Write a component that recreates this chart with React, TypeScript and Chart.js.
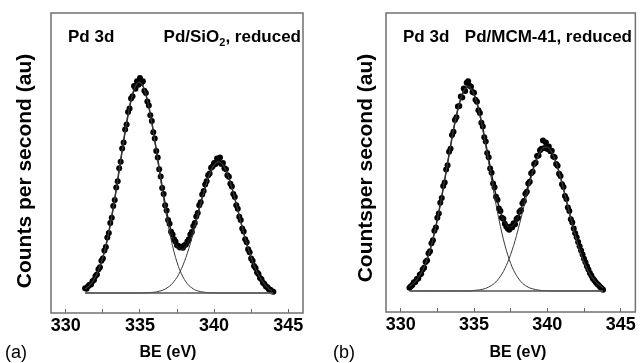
import React, { useEffect, useRef } from 'react';
import { Chart, registerables } from 'chart.js';

Chart.register(...registerables);

// ---------------- Data: panel (a) Pd/SiO2 ----------------
const dotEnergiesA = [
  331.3, 331.4, 331.5, 331.6, 331.7, 331.8, 331.9, 332.0, 332.1, 332.2,
  332.3, 332.4, 332.5, 332.6, 332.7, 332.8, 332.9, 333.0, 333.1, 333.2,
  333.3, 333.4, 333.5, 333.6, 333.7, 333.8, 333.9, 334.0, 334.1, 334.2,
  334.3, 334.4, 334.5, 334.6, 334.7, 334.8, 334.9, 335.0, 335.1, 335.2,
  335.3, 335.4, 335.5, 335.6, 335.7, 335.8, 335.9, 336.0, 336.1, 336.2,
  336.3, 336.4, 336.5, 336.6, 336.7, 336.8, 336.9, 337.0, 337.1, 337.2,
  337.3, 337.4, 337.5, 337.6, 337.7, 337.8, 337.9, 338.0, 338.1, 338.2,
  338.3, 338.4, 338.5, 338.6, 338.7, 338.8, 338.9, 339.0, 339.1, 339.2,
  339.3, 339.4, 339.5, 339.6, 339.7, 339.8, 339.9, 340.0, 340.1, 340.2,
  340.3, 340.4, 340.5, 340.6, 340.7, 340.8, 340.9, 341.0, 341.1, 341.2,
  341.3, 341.4, 341.5, 341.6, 341.7, 341.8, 341.9, 342.0, 342.1, 342.2,
  342.3, 342.4, 342.5, 342.6, 342.7, 342.8, 342.9, 343.0, 343.1, 343.2,
  343.3, 343.4, 343.5, 343.6, 343.7, 343.8, 343.9, 344.0,
];
const dotCountsA = [
  22, 20, 31, 38, 40, 55, 60, 79, 86, 110,
  120, 150, 160, 198, 214, 258, 279, 326, 350, 405,
  432, 490, 520, 580, 610, 672, 700, 760, 784, 842,
  858, 905, 915, 962, 950, 985, 968, 1000, 978, 985,
  940, 930, 890, 872, 826, 800, 748, 718, 660, 630,
  575, 542, 488, 460, 408, 384, 340, 322, 285, 272,
  250, 240, 222, 218, 212, 215, 210, 222, 225, 240,
  250, 272, 284, 312, 325, 356, 372, 408, 422, 458,
  474, 505, 520, 548, 556, 582, 588, 605, 600, 625,
  608, 630, 600, 604, 580, 575, 548, 540, 508, 495,
  460, 446, 408, 392, 355, 340, 300, 286, 250, 236,
  203, 190, 160, 150, 125, 116, 95, 88, 70, 64,
  48, 42, 30, 27, 18, 15, 8, 6,
];
const fitEnergiesA = [
  331.3, 331.5, 331.7, 331.9, 332.1, 332.3, 332.5, 332.7, 332.9, 333.1,
  333.3, 333.5, 333.7, 333.9, 334.1, 334.3, 334.5, 334.7, 334.9, 335.1,
  335.3, 335.5, 335.7, 335.9, 336.1, 336.3, 336.5, 336.7, 336.9, 337.1,
  337.3, 337.5, 337.7, 337.9, 338.1, 338.3, 338.5, 338.7, 338.9, 339.1,
  339.3, 339.5, 339.7, 339.9, 340.1, 340.3, 340.5, 340.7, 340.9, 341.1,
  341.3, 341.5, 341.7, 341.9, 342.1, 342.3, 342.5, 342.7, 342.9, 343.1,
  343.3, 343.5, 343.7, 343.9,
];
const fitSumA = [
  19, 29, 43, 63, 89, 123, 166, 219, 283, 356,
  438, 526, 617, 707, 791, 865, 923, 962, 979, 974,
  945, 897, 832, 754, 668, 580, 493, 414, 345, 288,
  245, 216, 203, 204, 217, 242, 278, 320, 369, 419,
  470, 515, 554, 585, 603, 610, 603, 584, 553, 513,
  466, 413, 359, 305, 254, 207, 165, 129, 98, 72,
  50, 32, 19, 9,
];
const fitPeak1A = [
  19, 29, 43, 63, 89, 123, 166, 219, 283, 356,
  438, 526, 617, 707, 791, 865, 923, 962, 979, 974,
  945, 896, 830, 751, 663, 572, 481, 396, 318, 250,
  191, 143, 105, 75, 52, 35, 24, 15, 10, 6,
  4, 2, 1, 1, 0, 0, 0, 0, 0, 0,
  0, 0, 0, 0, 0, 0, 0, 0, 0, 0,
  0, 0, 0, 0,
];
const fitPeak2A = [
  0, 0, 0, 0, 0, 0, 0, 0, 0, 0,
  0, 0, 0, 0, 0, 0, 0, 0, 0, 0,
  1, 1, 2, 3, 5, 8, 12, 18, 27, 38,
  54, 73, 98, 129, 165, 207, 254, 305, 359, 413,
  466, 513, 553, 584, 603, 610, 603, 584, 553, 513,
  466, 413, 359, 305, 254, 207, 165, 129, 98, 72,
  50, 32, 19, 9,
];
const baselineEnergiesA = [331.3, 344.0];
const baselineCountsA = [0, 0];

// ---------------- Data: panel (b) Pd/MCM-41 ----------------
const dotEnergiesB = [
  330.6, 330.7, 330.8, 330.9, 331.0, 331.1, 331.2, 331.3, 331.4, 331.5,
  331.6, 331.7, 331.8, 331.9, 332.0, 332.1, 332.2, 332.3, 332.4, 332.5,
  332.6, 332.7, 332.8, 332.9, 333.0, 333.1, 333.2, 333.3, 333.4, 333.5,
  333.6, 333.7, 333.8, 333.9, 334.0, 334.1, 334.2, 334.3, 334.4, 334.5,
  334.6, 334.7, 334.8, 334.9, 335.0, 335.1, 335.2, 335.3, 335.4, 335.5,
  335.6, 335.7, 335.8, 335.9, 336.0, 336.1, 336.2, 336.3, 336.4, 336.5,
  336.6, 336.7, 336.8, 336.9, 337.0, 337.1, 337.2, 337.3, 337.4, 337.5,
  337.6, 337.7, 337.8, 337.9, 338.0, 338.1, 338.2, 338.3, 338.4, 338.5,
  338.6, 338.7, 338.8, 338.9, 339.0, 339.1, 339.2, 339.3, 339.4, 339.5,
  339.6, 339.7, 339.8, 339.9, 340.0, 340.1, 340.2, 340.3, 340.4, 340.5,
  340.6, 340.7, 340.8, 340.9, 341.0, 341.1, 341.2, 341.3, 341.4, 341.5,
  341.6, 341.7, 341.8, 341.9, 342.0, 342.1, 342.2, 342.3, 342.4, 342.5,
  342.6, 342.7, 342.8, 342.9, 343.0, 343.1, 343.2, 343.3, 343.4, 343.5,
  343.6, 343.7, 343.8,
];
const dotCountsB = [
  15, 22, 28, 40, 42, 55, 58, 75, 80, 100,
  108, 135, 142, 175, 185, 222, 236, 280, 295, 340,
  360, 410, 432, 488, 505, 565, 585, 648, 662, 725,
  740, 795, 808, 858, 860, 905, 900, 942, 930, 968,
  975, 955, 950, 925, 922, 890, 880, 840, 828, 782,
  765, 715, 695, 642, 622, 570, 550, 500, 482, 438,
  424, 384, 372, 340, 336, 312, 300, 290, 285, 300,
  295, 315, 310, 335, 340, 368, 375, 408, 418, 452,
  462, 500, 508, 548, 555, 590, 596, 628, 630, 655,
  662, 700, 665, 690, 660, 672, 650, 652, 625, 622,
  590, 582, 545, 535, 496, 484, 442, 428, 388, 372,
  334, 318, 290, 268, 250, 228, 208, 188, 170, 150,
  134, 115, 100, 84, 72, 58, 50, 40, 32, 26,
  18, 12, 5,
];
const fitEnergiesB = [
  330.6, 330.8, 331.0, 331.2, 331.4, 331.6, 331.8, 332.0, 332.2, 332.4,
  332.6, 332.8, 333.0, 333.2, 333.4, 333.6, 333.8, 334.0, 334.2, 334.4,
  334.6, 334.8, 335.0, 335.2, 335.4, 335.6, 335.8, 336.0, 336.2, 336.4,
  336.6, 336.8, 337.0, 337.2, 337.4, 337.6, 337.8, 338.0, 338.2, 338.4,
  338.6, 338.8, 339.0, 339.2, 339.4, 339.6, 339.8, 340.0, 340.2, 340.4,
  340.6, 340.8, 341.0, 341.2, 341.4, 341.6, 341.8, 342.0, 342.2, 342.4,
  342.6, 342.8, 343.0, 343.2, 343.4, 343.6, 343.8,
];
const fitSumB = [
  21, 30, 43, 61, 83, 111, 147, 190, 241, 300,
  367, 439, 516, 596, 674, 749, 816, 872, 914, 941,
  950, 941, 916, 876, 821, 757, 686, 614, 542, 475,
  417, 368, 331, 308, 298, 301, 317, 345, 380, 422,
  469, 516, 562, 602, 635, 658, 669, 669, 657, 631,
  596, 552, 502, 448, 392, 337, 284, 234, 190, 151,
  118, 90, 68, 50, 36, 24, 14,
];
const fitPeak1B = [
  21, 30, 43, 61, 83, 111, 147, 190, 241, 300,
  367, 439, 516, 596, 674, 749, 816, 872, 914, 941,
  950, 941, 914, 872, 816, 749, 674, 596, 516, 439,
  367, 300, 241, 190, 147, 111, 83, 61, 43, 30,
  21, 14, 10, 6, 4, 2, 1, 1, 0, 0,
  0, 0, 0, 0, 0, 0, 0, 0, 0, 0,
  0, 0, 0, 0, 0, 0, 0,
];
const fitPeak2B = [
  0, 0, 0, 0, 0, 0, 0, 0, 0, 0,
  0, 0, 0, 0, 0, 0, 0, 0, 0, 0,
  0, 0, 2, 4, 5, 8, 12, 18, 26, 36,
  50, 68, 90, 118, 151, 190, 234, 284, 337, 392,
  448, 502, 552, 596, 631, 656, 668, 668, 656, 631,
  596, 552, 502, 448, 392, 337, 284, 234, 190, 151,
  118, 90, 68, 50, 36, 24, 14,
];
const baselineEnergiesB = [330.6, 343.8];
const baselineCountsB = [0, 0];

// axis settings
const xMin = 329;
const xMax = 346;
const minorStep = 2.5;
const majorStep = 5;

const FONT = '"Liberation Sans", Arial, Helvetica, sans-serif';

type Part = { text: string; sub?: boolean };
type TextItem = {
  parts: Part[];
  x: number;
  y: number;
  size: number;
  weight: string;
  align: 'left' | 'right' | 'center';
  rotate?: number;
};

type PanelCfg = {
  left: number;
  width: number;
  height: number;
  area: { left: number; top: number; right: number; bottom: number };
  yMin: number;
  yMax: number;
  dotX: number[];
  dotY: number[];
  fitX: number[];
  fitSum: number[];
  fitP1: number[];
  fitP2: number[];
  baseX: number[];
  baseY: number[];
  texts: TextItem[];
};

const panels: PanelCfg[] = [
  {
    left: 0,
    width: 321,
    height: 363,
    area: { left: 51, top: 13, right: 303, bottom: 313 },
    yMin: -93,
    yMax: 1302,
    dotX: dotEnergiesA,
    dotY: dotCountsA,
    fitX: fitEnergiesA,
    fitSum: fitSumA,
    fitP1: fitPeak1A,
    fitP2: fitPeak2A,
    baseX: baselineEnergiesA,
    baseY: baselineCountsA,
    texts: [
      { parts: [{ text: 'Pd 3d' }], x: 68, y: 42, size: 17, weight: 'bold', align: 'left' },
      {
        parts: [{ text: 'Pd/SiO' }, { text: '2', sub: true }, { text: ', reduced' }],
        x: 301, y: 42, size: 17, weight: 'bold', align: 'right',
      },
      { parts: [{ text: 'Counts per second (au)' }], x: 31, y: 171, size: 21, weight: 'bold', align: 'center', rotate: -Math.PI / 2 },
      { parts: [{ text: 'BE (eV)' }], x: 168, y: 357, size: 16, weight: 'bold', align: 'center' },
      { parts: [{ text: '(a)' }], x: 5, y: 358, size: 18, weight: 'normal', align: 'left' },
    ],
  },
  {
    left: 321,
    width: 321,
    height: 363,
    area: { left: 65, top: 13, right: 316, bottom: 312 },
    yMin: -98,
    yMax: 1293,
    dotX: dotEnergiesB,
    dotY: dotCountsB,
    fitX: fitEnergiesB,
    fitSum: fitSumB,
    fitP1: fitPeak1B,
    fitP2: fitPeak2B,
    baseX: baselineEnergiesB,
    baseY: baselineCountsB,
    texts: [
      { parts: [{ text: 'Pd 3d' }], x: 82, y: 42, size: 17, weight: 'bold', align: 'left' },
      { parts: [{ text: 'Pd/MCM-41, reduced' }], x: 311, y: 42, size: 17, weight: 'bold', align: 'right' },
      { parts: [{ text: 'Countsper second (au)' }], x: 51, y: 168, size: 21, weight: 'bold', align: 'center', rotate: -Math.PI / 2 },
      { parts: [{ text: 'BE (eV)' }], x: 197, y: 357, size: 16, weight: 'bold', align: 'center' },
      { parts: [{ text: '(b)' }], x: 12, y: 358, size: 18, weight: 'normal', align: 'left' },
    ],
  },
];

function drawText(ctx: CanvasRenderingContext2D, t: TextItem) {
  ctx.save();
  ctx.translate(t.x, t.y);
  if (t.rotate) ctx.rotate(t.rotate);
  ctx.textBaseline = 'alphabetic';
  ctx.textAlign = 'left';
  const mainFont = `${t.weight} ${t.size}px ${FONT}`;
  const subFont = `${t.weight} ${Math.round(t.size * 0.65)}px ${FONT}`;
  const widths = t.parts.map((p) => {
    ctx.font = p.sub ? subFont : mainFont;
    return ctx.measureText(p.text).width;
  });
  const total = widths.reduce((a, b) => a + b, 0);
  let x = t.align === 'right' ? -total : t.align === 'center' ? -total / 2 : 0;
  ctx.fillStyle = '#000';
  t.parts.forEach((p, i) => {
    ctx.font = p.sub ? subFont : mainFont;
    ctx.fillText(p.text, x, p.sub ? t.size * 0.25 : 0);
    x += widths[i];
  });
  ctx.restore();
}

function Panel({ cfg }: { cfg: PanelCfg }) {
  const ref = useRef<HTMLCanvasElement>(null);
  useEffect(() => {
    const canvas = ref.current;
    if (!canvas) return;
    const pts = (xs: number[], ys: number[]) => xs.map((x, i) => ({ x, y: ys[i] }));
    const overlay = {
      id: 'panelOverlay',
      afterDraw(chart: any) {
        const { ctx, chartArea: a } = chart;
        ctx.save();
        ctx.strokeStyle = '#707070';
        ctx.lineWidth = 1.5;
        ctx.strokeRect(a.left, a.top, a.right - a.left, a.bottom - a.top);
        ctx.restore();
        cfg.texts.forEach((t) => drawText(ctx, t));
      },
    };
    const lineDs = (data: any[], color: string, width: number) => ({
      data,
      showLine: true,
      borderColor: color,
      borderWidth: width,
      pointRadius: 0,
      pointHoverRadius: 0,
      cubicInterpolationMode: 'monotone' as const,
      fill: false,
    });
    const chart = new Chart(canvas, {
      type: 'scatter',
      data: {
        datasets: [
          lineDs(pts(cfg.baseX, cfg.baseY), '#555', 1.5),
          lineDs(pts(cfg.fitX, cfg.fitP1), '#3a3a3a', 1),
          lineDs(pts(cfg.fitX, cfg.fitP2), '#3a3a3a', 1),
          lineDs(pts(cfg.fitX, cfg.fitSum), '#1a1a1a', 1.5),
          {
            data: pts(cfg.dotX, cfg.dotY),
            showLine: false,
            pointRadius: 3,
            pointHoverRadius: 3,
            pointBackgroundColor: '#000',
            pointBorderColor: '#000',
            pointBorderWidth: 0,
          },
        ],
      },
      options: {
        responsive: false,
        maintainAspectRatio: false,
        animation: false,
        devicePixelRatio: 1,
        events: [],
        layout: {
          padding: {
            left: cfg.area.left,
            top: cfg.area.top,
            right: cfg.width - cfg.area.right,
            bottom: 0,
          },
        },
        plugins: {
          legend: { display: false },
          tooltip: { enabled: false },
          title: { display: false },
        },
        scales: {
          x: {
            type: 'linear',
            position: 'bottom',
            min: xMin,
            max: xMax,
            afterFit: (s: any) => {
              s.height = cfg.height - cfg.area.bottom;
            },
            border: { display: false },
            grid: {
              display: true,
              drawOnChartArea: false,
              drawTicks: true,
              tickLength: -4,
              tickColor: '#666',
              tickWidth: 1,
            },
            ticks: {
              stepSize: minorStep,
              includeBounds: false,
              autoSkip: false,
              maxRotation: 0,
              padding: 6,
              color: '#000',
              font: { family: FONT, size: 18, weight: 'bold' },
              callback: (v: any) => (Number(v) % majorStep === 0 ? String(v) : ''),
            },
          },
          y: {
            type: 'linear',
            display: false,
            min: cfg.yMin,
            max: cfg.yMax,
          },
        },
      },
      plugins: [overlay],
    } as any);
    return () => chart.destroy();
  }, [cfg]);
  return (
    <canvas
      ref={ref}
      width={cfg.width}
      height={cfg.height}
      style={{ position: 'absolute', left: cfg.left, top: 0, width: cfg.width, height: cfg.height }}
    />
  );
}

export default function App() {
  return (
    <div style={{ position: 'fixed', left: 0, top: 0, width: 642, height: 363, background: '#fff', overflow: 'hidden' }}>
      {panels.map((p, i) => (
        <Panel key={i} cfg={p} />
      ))}
    </div>
  );
}
